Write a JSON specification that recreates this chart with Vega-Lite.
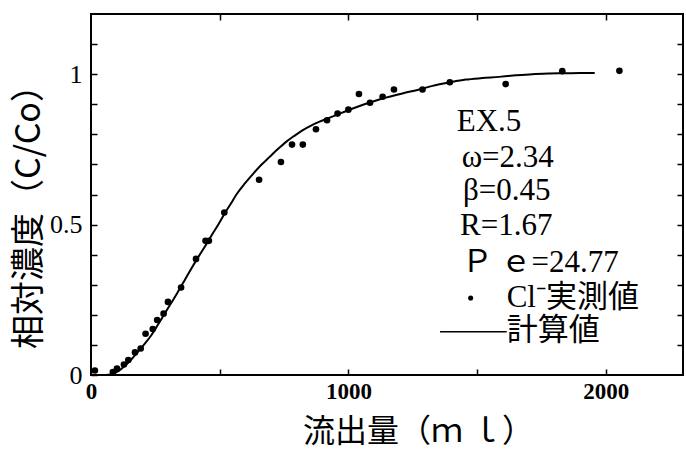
{
  "$schema": "https://vega.github.io/schema/vega-lite/v6.json",
  "width": 592,
  "height": 361,
  "autosize": "none",
  "padding": {"left": 91, "top": 14, "right": 3, "bottom": 74},
  "background": "white",
  "config": {
    "view": {"stroke": "black", "strokeWidth": 2},
    "axis": {"grid": false, "domain": false, "tickColor": "black", "tickWidth": 1.5, "labelColor": "black", "titleColor": "black"}
  },
  "datasets": {
    "curve": [
      {"x": 0, "y": 0}, {"x": 40, "y": 0}, {"x": 70, "y": 0.001}, {"x": 86, "y": 0.004}, {"x": 110, "y": 0.015},
      {"x": 132, "y": 0.031}, {"x": 160, "y": 0.055}, {"x": 183, "y": 0.078}, {"x": 210, "y": 0.105}, {"x": 235, "y": 0.133},
      {"x": 260, "y": 0.167}, {"x": 287, "y": 0.205}, {"x": 312, "y": 0.24}, {"x": 338, "y": 0.277}, {"x": 365, "y": 0.317},
      {"x": 390, "y": 0.354}, {"x": 416, "y": 0.391}, {"x": 442, "y": 0.426}, {"x": 467, "y": 0.462}, {"x": 493, "y": 0.498},
      {"x": 520, "y": 0.538}, {"x": 545, "y": 0.572}, {"x": 565, "y": 0.6}, {"x": 597, "y": 0.636}, {"x": 629, "y": 0.668},
      {"x": 661, "y": 0.698}, {"x": 694, "y": 0.725}, {"x": 726, "y": 0.751}, {"x": 758, "y": 0.775}, {"x": 790, "y": 0.795},
      {"x": 823, "y": 0.814}, {"x": 855, "y": 0.829}, {"x": 888, "y": 0.842}, {"x": 920, "y": 0.853}, {"x": 952, "y": 0.864},
      {"x": 985, "y": 0.875}, {"x": 1017, "y": 0.886}, {"x": 1049, "y": 0.896}, {"x": 1081, "y": 0.905}, {"x": 1114, "y": 0.914},
      {"x": 1146, "y": 0.922}, {"x": 1178, "y": 0.929}, {"x": 1210, "y": 0.936}, {"x": 1275, "y": 0.949}, {"x": 1327, "y": 0.961},
      {"x": 1390, "y": 0.972}, {"x": 1456, "y": 0.982}, {"x": 1520, "y": 0.987}, {"x": 1585, "y": 0.991}, {"x": 1650, "y": 0.996},
      {"x": 1714, "y": 1.0}, {"x": 1780, "y": 1.002}, {"x": 1844, "y": 1.003}, {"x": 1900, "y": 1.004}, {"x": 1957, "y": 1.004}
    ],
    "obs": [
      {"x": 15, "y": 0.015}, {"x": 85, "y": 0.01}, {"x": 101, "y": 0.021}, {"x": 128, "y": 0.035}, {"x": 145, "y": 0.05},
      {"x": 171, "y": 0.075}, {"x": 193, "y": 0.088}, {"x": 212, "y": 0.137}, {"x": 240, "y": 0.153}, {"x": 257, "y": 0.183},
      {"x": 282, "y": 0.204}, {"x": 299, "y": 0.243}, {"x": 350, "y": 0.291}, {"x": 408, "y": 0.386}, {"x": 445, "y": 0.446},
      {"x": 458, "y": 0.446}, {"x": 518, "y": 0.54}, {"x": 653, "y": 0.649}, {"x": 738, "y": 0.708}, {"x": 781, "y": 0.766},
      {"x": 823, "y": 0.766}, {"x": 874, "y": 0.817}, {"x": 917, "y": 0.847}, {"x": 958, "y": 0.869}, {"x": 1000, "y": 0.882},
      {"x": 1041, "y": 0.934}, {"x": 1084, "y": 0.905}, {"x": 1133, "y": 0.925}, {"x": 1177, "y": 0.949}, {"x": 1288, "y": 0.949},
      {"x": 1394, "y": 0.973}, {"x": 1611, "y": 0.967}, {"x": 1831, "y": 1.01}, {"x": 2053, "y": 1.011}
    ],
    "labels": [
      {"x": 1421, "y": 0.84, "t": "EX.5"},
      {"x": 1440, "y": 0.72, "t": "ω=2.34"},
      {"x": 1445, "y": 0.613, "t": "β=0.45"},
      {"x": 1434, "y": 0.495, "t": "R=1.67"},
      {"x": 1440, "y": 0.372, "t": "Ｐ ｅ=24.77"},
      {"x": 1615, "y": 0.257, "t": "Cl⁻実測値"},
      {"x": 1615, "y": 0.147, "t": "計算値"}
    ],
    "legline": [{"x": 1356, "x2": 1615, "y": 0.144}],
    "legdot": [{"x": 1475, "y": 0.256}]
  },
  "layer": [
    {
      "data": {"name": "curve"},
      "mark": {"type": "line", "color": "black", "strokeWidth": 2, "interpolate": "monotone"},
      "encoding": {
        "x": {"field": "x", "type": "quantitative", "scale": {"domain": [0, 2300], "nice": false, "zero": false},
          "axis": {"orient": "bottom", "values": [0, 500, 1000, 1500, 2000], "format": "d",
            "labelExpr": "datum.value % 1000 == 0 ? datum.label : ''",
            "tickSize": -6, "labelPadding": 11, "labelFont": "Liberation Serif", "labelFontSize": 23, "labelFontWeight": "bold",
            "labelFlush": false,
            "title": "流出量（ｍ ｌ）", "titleFont": "Noto Sans CJK JP", "titleFontSize": 32, "titleFontWeight": "normal",
            "titleX": 327, "titleY": 56, "titleAlign": "center", "titleBaseline": "middle"}},
        "y": {"field": "y", "type": "quantitative", "scale": {"domain": [0, 1.2], "nice": false},
          "axis": {"orient": "left", "values": [0, 0.1, 0.2, 0.3, 0.4, 0.5, 0.6, 0.7, 0.8, 0.9, 1, 1.1],
            "labelExpr": "datum.value == 0 ? '0' : (datum.value == 0.5 ? '0.5' : (datum.value == 1 ? '1' : ''))",
            "tickSize": -6, "labelPadding": 15, "labelFont": "Liberation Serif", "labelFontSize": 26,
            "labelFlush": false,
            "title": "相対濃度（C/Co）", "titleFont": "Noto Sans CJK JP", "titleFontSize": 34, "titleFontWeight": "normal",
            "titleAngle": -90, "titleX": -62, "titleY": 194, "titleAlign": "center", "titleBaseline": "middle"}}
      }
    },
    {
      "data": {"name": "obs"},
      "mark": {"type": "point", "filled": true, "color": "black", "opacity": 1, "size": 44},
      "encoding": {
        "x": {"field": "x", "type": "quantitative", "axis": null},
        "y": {"field": "y", "type": "quantitative", "axis": null}
      }
    },
    {
      "data": {"name": "obs"},
      "mark": {"type": "point", "opacity": 0},
      "encoding": {
        "x": {"field": "x", "type": "quantitative",
          "axis": {"orient": "top", "values": [500, 1000, 1500, 2000], "labels": false, "tickSize": -6, "title": null}},
        "y": {"field": "y", "type": "quantitative",
          "axis": {"orient": "right", "values": [0.1, 0.2, 0.3, 0.4, 0.5, 0.6, 0.7, 0.8, 0.9, 1, 1.1], "labels": false, "tickSize": -6, "title": null}}
      }
    },
    {
      "data": {"name": "labels"},
      "mark": {"type": "text", "align": "left", "baseline": "middle", "font": "Liberation Serif, Noto Sans CJK JP", "fontSize": 31, "color": "black"},
      "encoding": {
        "x": {"field": "x", "type": "quantitative", "axis": null},
        "y": {"field": "y", "type": "quantitative", "axis": null},
        "text": {"field": "t"}
      }
    },
    {
      "data": {"name": "legline"},
      "mark": {"type": "rule", "color": "black", "strokeWidth": 1.5},
      "encoding": {
        "x": {"field": "x", "type": "quantitative", "axis": null},
        "x2": {"field": "x2"},
        "y": {"field": "y", "type": "quantitative", "axis": null}
      }
    },
    {
      "data": {"name": "legdot"},
      "mark": {"type": "point", "filled": true, "color": "black", "opacity": 1, "size": 26},
      "encoding": {
        "x": {"field": "x", "type": "quantitative", "axis": null},
        "y": {"field": "y", "type": "quantitative", "axis": null}
      }
    }
  ],
  "resolve": {"axis": {"x": "independent", "y": "independent"}}
}
